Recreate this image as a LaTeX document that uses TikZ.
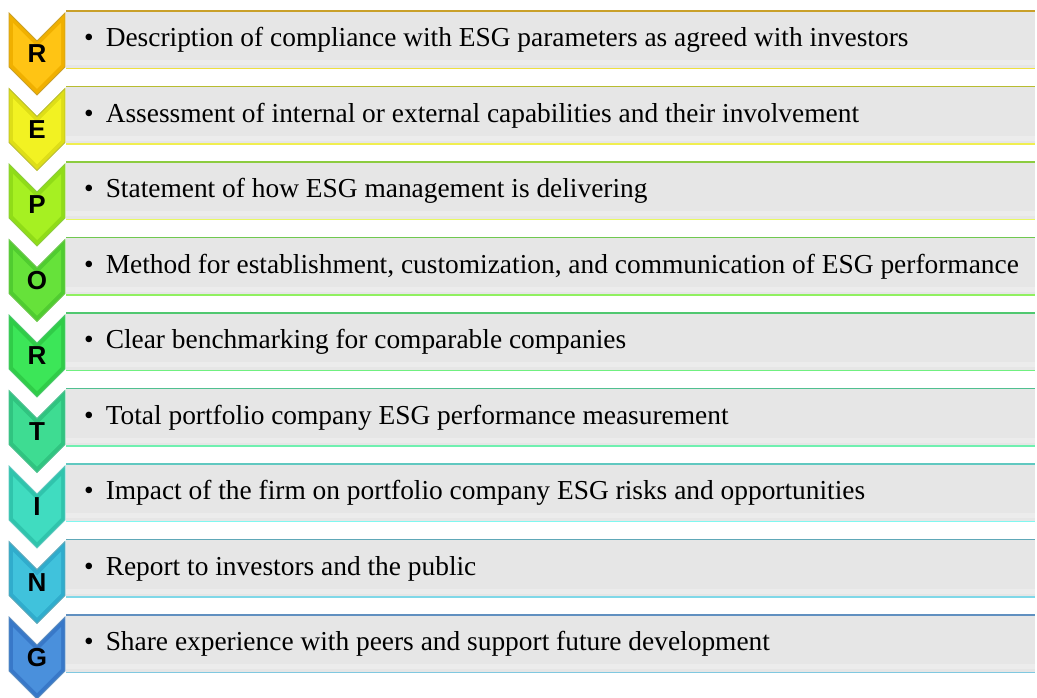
\documentclass[tikz,border=0pt]{standalone}
\usepackage{fontspec}
\setmainfont{Liberation Serif}
\newfontfamily\lettfont{Liberation Sans}
\definecolor{c1}{HTML}{FFC414}\definecolor{d1}{HTML}{C9A02A}\definecolor{l1}{HTML}{EEE040}\definecolor{e1}{HTML}{F0B000}
\definecolor{c2}{HTML}{F2F222}\definecolor{d2}{HTML}{B8BC30}\definecolor{l2}{HTML}{F0EE50}\definecolor{e2}{HTML}{DEDE18}
\definecolor{c3}{HTML}{A6F022}\definecolor{d3}{HTML}{8CCC40}\definecolor{l3}{HTML}{E8F860}\definecolor{e3}{HTML}{90DC18}
\definecolor{c4}{HTML}{66E23A}\definecolor{d4}{HTML}{70C850}\definecolor{l4}{HTML}{90F060}\definecolor{e4}{HTML}{50CC30}
\definecolor{c5}{HTML}{3CE658}\definecolor{d5}{HTML}{50C870}\definecolor{l5}{HTML}{70F080}\definecolor{e5}{HTML}{30CC48}
\definecolor{c6}{HTML}{3EDC92}\definecolor{d6}{HTML}{50C090}\definecolor{l6}{HTML}{70F0B0}\definecolor{e6}{HTML}{30C480}
\definecolor{c7}{HTML}{40DCC0}\definecolor{d7}{HTML}{60C8C0}\definecolor{l7}{HTML}{80F8F0}\definecolor{e7}{HTML}{30C4AC}
\definecolor{c8}{HTML}{40C2DC}\definecolor{d8}{HTML}{60A8B8}\definecolor{l8}{HTML}{80D8E8}\definecolor{e8}{HTML}{30ACCC}
\definecolor{c9}{HTML}{4A90DC}\definecolor{d9}{HTML}{6090C0}\definecolor{l9}{HTML}{80C8E0}\definecolor{e9}{HTML}{3878C8}
\definecolor{boxgray}{HTML}{E6E6E6}
\definecolor{boxlight}{HTML}{ECECEC}
\tikzset{
  chev/.style={line width=0.8pt, line join=miter},
  lett/.style={font=\lettfont\bfseries\fontsize{26}{26}\selectfont, text=black, inner sep=0pt},
  itemtext/.style={font=\fontsize{27.4}{27.4}\selectfont, text=black, anchor=west, inner sep=0pt},
  rowbox/.style={fill=boxgray, draw=none, minimum width=969pt, minimum height=57pt, inner sep=0pt, anchor=north west}
}
\begin{document}
\begin{tikzpicture}[x=1pt,y=-1pt]
\useasboundingbox (0,0) rectangle (1037,698);
\foreach \i/\L/\T in {
 1/R/{Description of compliance with ESG parameters as agreed with investors},
 2/E/{Assessment of internal or external capabilities and their involvement},
 3/P/{Statement of how ESG management is delivering},
 4/O/{Method for establishment, customization, and communication of ESG performance},
 5/R/{Clear benchmarking for comparable companies},
 6/T/{Total portfolio company ESG performance measurement},
 7/I/{Impact of the firm on portfolio company ESG risks and opportunities},
 8/N/{Report to investors and the public},
 9/G/{Share experience with peers and support future development}}{
  \pgfmathsetmacro{\yy}{13+75.5*(\i-1)}
  % box
  \node[rowbox] (box\i) at (66,\yy-2) {};
  \fill[boxlight] ([yshift=8pt]box\i.south west) rectangle ([yshift=3pt]box\i.south east);
  \draw[d\i, line width=1.6pt] (box\i.north west) -- (box\i.north east);
  \draw[l\i, line width=1.6pt] (box\i.south west) -- (box\i.south east);
  % chevron
  \filldraw[chev, fill=e\i, draw=d\i] (9,\yy) -- (37,\yy+28) -- (65,\yy) -- (65,\yy+54) -- (37,\yy+82) -- (9,\yy+54) -- cycle;
  \fill[c\i] (13,\yy+10) -- (37,\yy+34) -- (61,\yy+10) -- (61,\yy+52) -- (37,\yy+76) -- (13,\yy+52) -- cycle;
  \node[lett] (let\i) at (37,\yy+41) {\L};
  \node[itemtext] (txt\i) at (84,\yy+27) {•\hspace{12pt}\T};
}
\end{tikzpicture}
\end{document}
